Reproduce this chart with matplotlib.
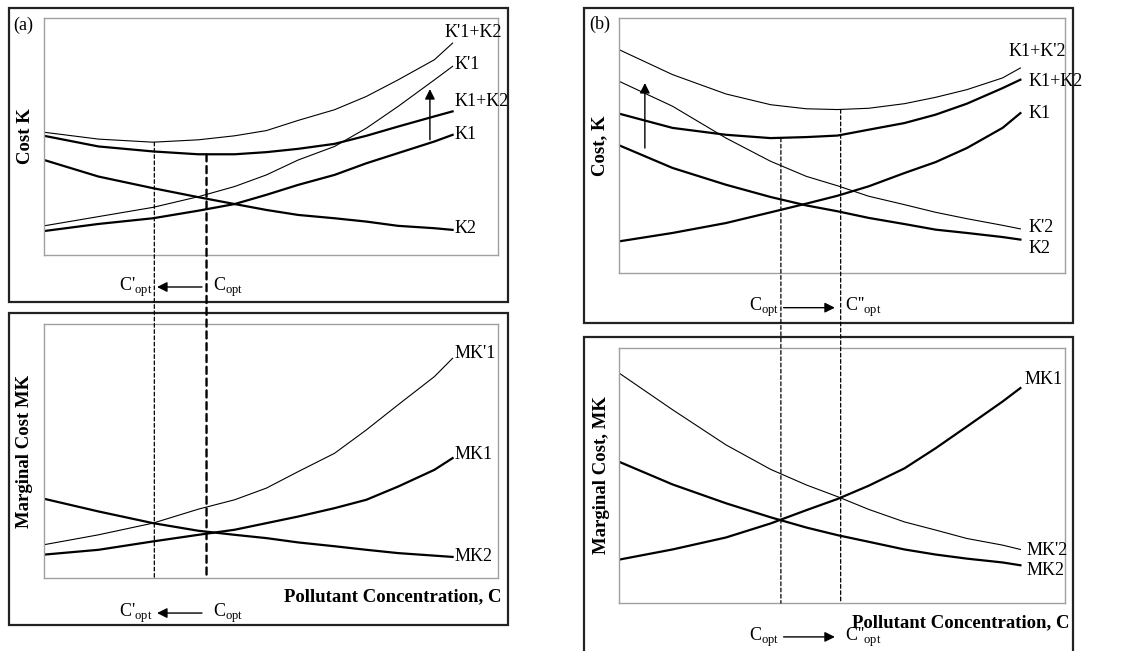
import matplotlib.pyplot as plt
from matplotlib.patches import Rectangle, ConnectionPatch

plt.rcParams['font.family'] = ['Liberation Serif', 'DejaVu Serif']
plt.rcParams['mathtext.fontset'] = 'custom'
plt.rcParams['mathtext.rm'] = 'Liberation Serif'

# data (schematic curves)
C = [0, 12, 24, 34, 42, 49, 56, 64, 71, 78, 86, 90]

# panel (a) top: costs
a_K1p_K2 = [51.8, 48.9, 47.6, 48.6, 50.3, 52.5, 56.8, 61.3, 66.9, 73.9, 82.4, 89.4]
a_K1_K2 = [50.3, 45.8, 43.7, 42.5, 42.5, 43.4, 44.8, 46.9, 50.3, 54.2, 58.5, 60.6]
a_K1p = [12.3, 16.2, 20.1, 24.6, 28.9, 33.8, 40.1, 45.8, 53.5, 62.7, 73.9, 79.6]
a_K1 = [10.1, 13.1, 15.5, 18.7, 21.5, 25.4, 29.6, 33.8, 38.7, 43.0, 47.9, 50.7]
a_K2 = [40.1, 33.1, 28.2, 24.4, 21.5, 19.0, 16.9, 15.5, 14.1, 12.3, 11.3, 10.6]
# panel (a) bottom: marginal costs
a_MK1p = [13.1, 17.0, 21.6, 27.1, 30.8, 35.4, 41.9, 49.1, 58.3, 68.2, 79.3, 86.5]
a_MK1 = [9.2, 11.1, 14.4, 17.0, 19.0, 21.6, 24.2, 27.5, 30.8, 36.0, 42.6, 47.2]
a_MK2 = [31.2, 26.2, 21.6, 18.6, 17.0, 15.7, 14.0, 12.5, 11.1, 9.8, 8.8, 8.3]
a_copt, a_copt_new = 35.8, 24.3

# panel (b) top
b_K1_K2p = [87.6, 77.8, 70.2, 66.0, 64.4, 64.1, 64.6, 66.4, 68.9, 71.9, 76.5, 80.4]
b_K1_K2 = [62.5, 56.9, 54.2, 52.9, 53.3, 53.9, 56.2, 58.8, 62.1, 66.4, 72.5, 75.8]
b_K2p = [75.2, 65.4, 52.9, 43.8, 37.9, 34.2, 30.1, 26.8, 23.8, 21.3, 18.7, 17.3]
b_K2 = [50.1, 41.2, 34.6, 29.8, 26.5, 24.2, 21.6, 19.2, 17.0, 15.7, 14.1, 13.1]
b_K1 = [12.4, 15.7, 19.6, 23.8, 27.2, 30.3, 34.0, 39.2, 43.5, 49.0, 56.9, 62.7]
# panel (b) bottom
b_MK2p = [90.2, 75.8, 62.0, 52.4, 46.3, 41.7, 36.7, 31.8, 28.6, 25.3, 22.7, 21.0]
b_MK2 = [55.4, 46.5, 39.1, 33.6, 29.6, 26.6, 24.0, 21.0, 19.0, 17.4, 15.9, 14.8]
b_MK1 = [17.0, 21.0, 25.7, 31.2, 36.4, 40.8, 46.0, 52.8, 60.7, 69.2, 79.0, 84.3]
b_copt, b_copt_new = 36.3, 49.7

W, H = 1133, 651
fig = plt.figure(figsize=(W / 100, H / 100), dpi=100)


def px_axes(x0, y0, x1, y1):
    # pixel box (top-left origin) -> axes
    ax = fig.add_axes([x0 / W, 1 - y1 / H, (x1 - x0) / W, (y1 - y0) / H])
    ax.set_xlim(0, 100)
    ax.set_ylim(0, 100)
    ax.set_xticks([])
    ax.set_yticks([])
    for s in ax.spines.values():
        s.set_color('#a0a0a0')
        s.set_linewidth(1.0)
    return ax


def px_box(x0, y0, x1, y1):
    fig.add_artist(Rectangle((x0 / W, 1 - y1 / H), (x1 - x0) / W, (y1 - y0) / H,
                             transform=fig.transFigure, fill=False,
                             edgecolor='#222222', linewidth=1.6))


THICK, THIN = 1.6, 0.8
FS = 13

# outer boxes
px_box(9, 8, 508, 302)
px_box(9, 313, 508, 625)
px_box(584, 8, 1073, 323)
px_box(584, 337, 1073, 660)

ax1 = px_axes(44, 18, 498, 255)
ax2 = px_axes(44, 324, 498, 578)
ax3 = px_axes(619, 18, 1065, 273)
ax4 = px_axes(619, 348, 1065, 603)


def lab(ax, x, y, s, **kw):
    ax.text(x, y, s, fontsize=FS, va='center', ha='left', clip_on=False, **kw)


def shift_label(ax, y, x_from, x_to, left_txt, right_txt, left_at, right_at):
    ax.annotate('', xy=(x_to, y), xytext=(x_from, y), annotation_clip=False,
                arrowprops=dict(arrowstyle='-|>', color='black', lw=1.0,
                                mutation_scale=15, shrinkA=0, shrinkB=0))
    ax.text(left_at, y, left_txt, fontsize=FS, ha='right', va='center', clip_on=False)
    ax.text(right_at, y, right_txt, fontsize=FS, ha='left', va='center', clip_on=False)


# (a) top
ax1.plot(C, a_K1p_K2, color='black', lw=THIN)
ax1.plot(C, a_K1_K2, color='black', lw=THICK)
ax1.plot(C, a_K1p, color='black', lw=THIN)
ax1.plot(C, a_K1, color='black', lw=THICK)
ax1.plot(C, a_K2, color='black', lw=THICK)
ax1.annotate('', xy=(85, 70), xytext=(85, 48.6),
             arrowprops=dict(arrowstyle='-|>', color='black', lw=1.0,
                             mutation_scale=15, shrinkA=0, shrinkB=0))
lab(ax1, 88.3, 93.7, "K'1+K2")
lab(ax1, 90.5, 80.3, "K'1")
lab(ax1, 90.5, 64.8, "K1+K2")
lab(ax1, 90.5, 50.7, "K1")
lab(ax1, 90.5, 11.3, "K2")
ax1.text(-0.068, 0.97, '(a)', transform=ax1.transAxes, fontsize=FS, ha='left', va='center')
ax1.set_ylabel('Cost K', fontsize=13.5, fontweight='bold')
ax1.yaxis.set_label_coords(-0.021, 0.5)
shift_label(ax1, -13.5, 34.8, 24.9, r"C'$_{\rm opt}$", r"C$_{\rm opt}$", 23.8, 37.3)

# (a) bottom
ax2.plot(C, a_MK1p, color='black', lw=THIN)
ax2.plot(C, a_MK1, color='black', lw=THICK)
ax2.plot(C, a_MK2, color='black', lw=THICK)
lab(ax2, 90.5, 88.5, "MK'1")
lab(ax2, 90.5, 48.5, "MK1")
lab(ax2, 90.5, 8.3, "MK2")
ax2.set_ylabel('Marginal Cost MK', fontsize=13.5, fontweight='bold')
ax2.yaxis.set_label_coords(-0.024, 0.5)
ax2.text(100.8, -7.5, 'Pollutant Concentration, C', fontsize=13.5, fontweight='bold',
         ha='right', va='center', clip_on=False)
shift_label(ax2, -13.8, 34.8, 24.9, r"C'$_{\rm opt}$", r"C$_{\rm opt}$", 23.8, 37.3)

# (a) dashed optimum lines across both boxes
for xv, y0, lw in [(a_copt_new, 47.6, 0.9), (a_copt, 42.5, 1.7)]:
    fig.add_artist(ConnectionPatch((xv, y0), (xv, 0), 'data', 'data', axesA=ax1, axesB=ax2,
                                   color='black', lw=lw, linestyle=(0, (3, 2))))

# (b) top
ax3.plot(C, b_K1_K2p, color='black', lw=THIN)
ax3.plot(C, b_K1_K2, color='black', lw=THICK)
ax3.plot(C, b_K2p, color='black', lw=THIN)
ax3.plot(C, b_K2, color='black', lw=THICK)
ax3.plot(C, b_K1, color='black', lw=THICK)
ax3.annotate('', xy=(5.8, 74.5), xytext=(5.8, 49.0),
             arrowprops=dict(arrowstyle='-|>', color='black', lw=1.0,
                             mutation_scale=15, shrinkA=0, shrinkB=0))
lab(ax3, 87.3, 86.9, "K1+K'2")
lab(ax3, 91.8, 75.2, "K1+K2")
lab(ax3, 91.8, 62.7, "K1")
lab(ax3, 91.8, 17.9, "K'2")
lab(ax3, 91.8, 9.8, "K2")
ax3.text(-0.066, 0.974, '(b)', transform=ax3.transAxes, fontsize=FS, ha='left', va='center')
ax3.set_ylabel('Cost, K', fontsize=13.5, fontweight='bold')
ax3.yaxis.set_label_coords(-0.025, 0.5)
shift_label(ax3, -13.6, 36.9, 48.4, r"C$_{\rm opt}$", r"C''$_{\rm opt}$", 36.0, 50.6)

# (b) bottom
ax4.plot(C, b_MK2p, color='black', lw=THIN)
ax4.plot(C, b_MK2, color='black', lw=THICK)
ax4.plot(C, b_MK1, color='black', lw=THICK)
lab(ax4, 91.0, 87.5, "MK1")
lab(ax4, 91.3, 20.7, "MK'2")
lab(ax4, 91.3, 12.8, "MK2")
ax4.set_ylabel('Marginal Cost, MK', fontsize=13.5, fontweight='bold')
ax4.yaxis.set_label_coords(-0.021, 0.5)
ax4.text(101.1, -7.8, 'Pollutant Concentration, C', fontsize=13.5, fontweight='bold',
         ha='right', va='center', clip_on=False)
shift_label(ax4, -13.3, 36.9, 48.4, r"C$_{\rm opt}$", r"C''$_{\rm opt}$", 36.0, 50.6)

for xv, y0 in [(b_copt, 52.9), (b_copt_new, 64.1)]:
    fig.add_artist(ConnectionPatch((xv, y0), (xv, 0), 'data', 'data', axesA=ax3, axesB=ax4,
                                   color='black', lw=0.9, linestyle=(0, (3, 2))))

fig.savefig('out.png', dpi=100)
